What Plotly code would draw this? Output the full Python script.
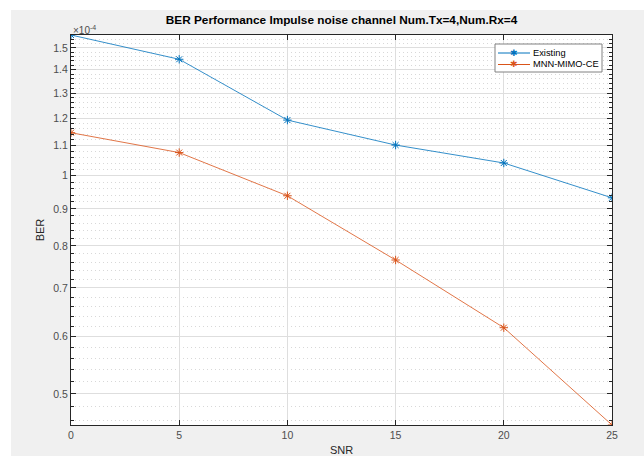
import plotly.graph_objects as go
import numpy as np

snr = [0, 5, 10, 15, 20, 25]
existing = [1.563e-4, 1.447e-4, 1.193e-4, 1.102e-4, 1.041e-4, 0.932e-4]
mnn = [1.146e-4, 1.076e-4, 0.938e-4, 0.765e-4, 0.617e-4, 0.453e-4]
series_names = ["Existing", "MNN-MIMO-CE"]
series_colors = ["#0072BD", "#D95319"]
ytick_vals = [0.5e-4, 0.6e-4, 0.7e-4, 0.8e-4, 0.9e-4, 1.0e-4, 1.1e-4, 1.2e-4, 1.3e-4, 1.4e-4, 1.5e-4]
ytick_text = ["0.5", "0.6", "0.7", "0.8", "0.9", "1", "1.1", "1.2", "1.3", "1.4", "1.5"]
minor_vals = [round(v, 2) * 1e-4 for v in np.arange(0.46, 1.57, 0.02)
              if abs(round(v, 2) * 10 - round(round(v, 2) * 10)) > 1e-6]

W, H = 644, 456
L, R, T, B = 71, 612, 35, 425
pw, ph = R - L, B - T

def px(x):
    return (x - L) / pw

def py(y):
    return (B - y) / ph

axis_col = "#262626"
grid_col = "#dedede"
font = "Liberation Sans, Arial, sans-serif"

fig = go.Figure()
for name, vals, col in zip(series_names, [existing, mnn], series_colors):
    fig.add_trace(go.Scatter(x=snr, y=vals, mode="lines+markers", name=name,
                             line=dict(color=col, width=0.8),
                             marker=dict(symbol="asterisk-open", size=7,
                                         line=dict(color=col, width=1))))

fig.update_layout(
    width=W, height=H,
    margin=dict(l=L, r=W - R, t=T, b=H - B, autoexpand=False),
    paper_bgcolor="#f0f0f0", plot_bgcolor="white",
    font=dict(family=font, size=10, color=axis_col),
    title=dict(text="<b>BER Performance Impulse noise channel Num.Tx=4,Num.Rx=4</b>",
               x=px(341.5), xref="paper", xanchor="center",
               y=1 - 20 / H, yref="container", yanchor="middle",
               font=dict(size=11.8, color="#000000", family=font)),
    showlegend=False,
    xaxis=dict(range=[0, 25], tickvals=[0, 5, 10, 15, 20, 25], automargin=False,
               ticks="inside", ticklen=5, tickcolor=axis_col,
               showline=True, linecolor=axis_col, linewidth=1, mirror="ticks",
               showgrid=True, gridcolor=grid_col, gridwidth=1, zeroline=False,
               title=dict(text="SNR", standoff=6, font=dict(size=11)),
               tickfont=dict(size=10.5, color="#4d4d4d")),
    yaxis=dict(type="log", range=[np.log10(0.453e-4), np.log10(1.563e-4)],
               tickvals=ytick_vals, ticktext=ytick_text, automargin=False,
               ticks="inside", ticklen=5, tickcolor=axis_col,
               showline=True, linecolor=axis_col, linewidth=1, mirror="ticks",
               showgrid=True, gridcolor=grid_col, gridwidth=1, zeroline=False,
               title=dict(text="BER", standoff=6, font=dict(size=11)),
               tickfont=dict(size=10.5, color="#4d4d4d"),
               minor=dict(tickvals=minor_vals, ticks="inside", ticklen=3,
                          tickcolor=axis_col, showgrid=True,
                          gridcolor="#d8d8d8", griddash="1px,3px", gridwidth=1)),
)

fig.add_annotation(text="×10<sup>-4</sup>", xref="paper", yref="paper",
                   x=0, y=1, xanchor="left", yanchor="bottom", showarrow=False,
                   font=dict(size=10, color="#4d4d4d"), yshift=-3)

# compact MATLAB-style legend box
lx0, lx1, ly0, ly1 = 495, 602, 44, 72
fig.add_shape(type="rect", xref="paper", yref="paper",
              x0=px(lx0), x1=px(lx1), y0=py(ly1), y1=py(ly0),
              fillcolor="white", line=dict(color="#808080", width=1))
for i, (name, col) in enumerate(zip(series_names, series_colors)):
    yc = 53 + i * 11.5
    fig.add_shape(type="line", xref="paper", yref="paper",
                  x0=px(498), x1=px(530), y0=py(yc), y1=py(yc),
                  line=dict(color=col, width=1))
    fig.add_annotation(text="✱", xref="paper", yref="paper", x=px(514), y=py(yc),
                       xanchor="center", yanchor="middle", showarrow=False,
                       font=dict(size=9, color=col, family="DejaVu Sans"))
    fig.add_annotation(text=name, xref="paper", yref="paper", x=px(531), y=py(yc),
                       xanchor="left", yanchor="middle", showarrow=False,
                       font=dict(size=9.3, color="#000000"))

# white strips of the screenshot border
fig.add_shape(type="rect", xref="paper", yref="paper",
              x0=px(0), x1=px(11), y0=py(H), y1=py(0),
              fillcolor="white", line=dict(width=0))
fig.add_shape(type="rect", xref="paper", yref="paper",
              x0=px(0), x1=px(W), y0=py(10), y1=py(0),
              fillcolor="white", line=dict(width=0))

fig.write_html("out.html", config={"displayModeBar": False},
               post_script="document.body.style.margin='0';document.body.style.overflow='hidden';")
